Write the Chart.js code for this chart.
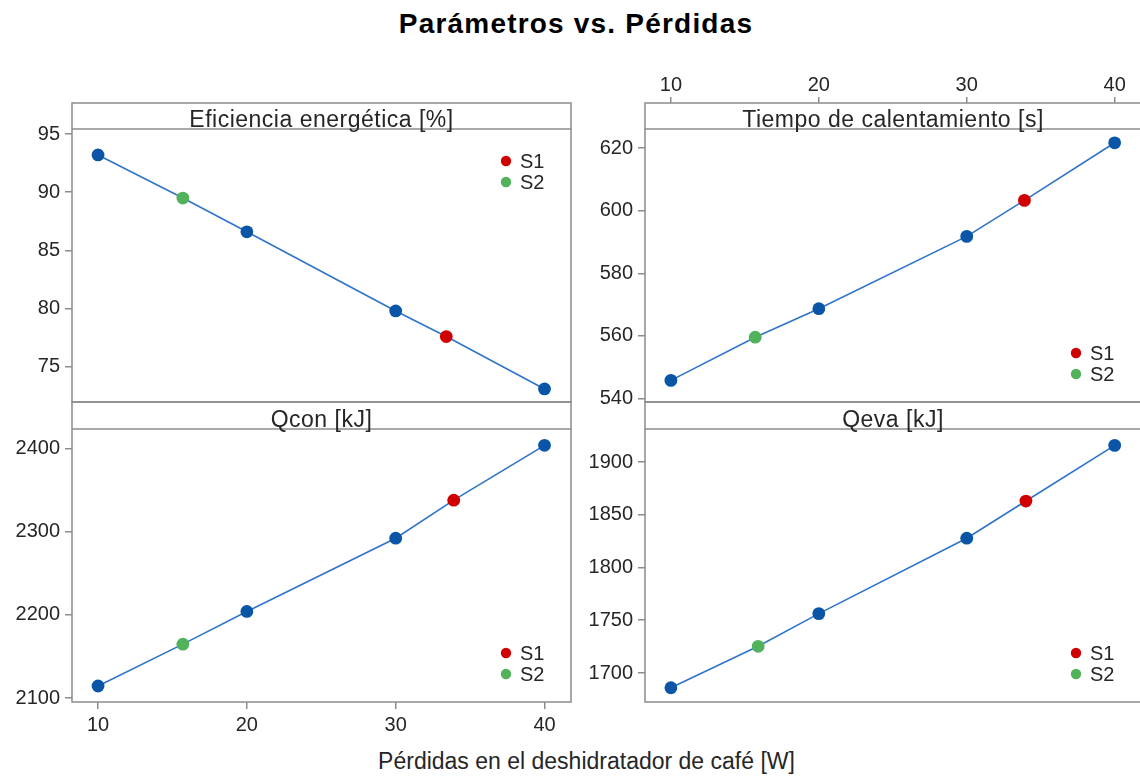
<!DOCTYPE html>
<html lang="es">
<head>
<meta charset="utf-8">
<title>Parámetros vs. Pérdidas</title>
<script src="https://cdn.jsdelivr.net/npm/chart.js@4.4.1/dist/chart.umd.min.js"></script>
<style>
  html, body { margin: 0; padding: 0; width: 1140px; height: 778px; overflow: hidden; background: #fff; }
  body { position: relative; font-family: "Liberation Sans", Arial, sans-serif; }
  #titulo { position: absolute; left: 0; width: 1152px; top: 10px; text-align: center;
            font-weight: bold; font-size: 28px; line-height: 28px; letter-spacing: 1.2px; color: #000; }
  #ejeX { position: absolute; left: 0; width: 1173px; top: 750px; text-align: center;
          font-size: 23px; line-height: 23px; color: #262626; }
</style>
</head>
<body>
<div id="titulo">Parámetros vs. Pérdidas</div>
<div id="ejeX">Pérdidas en el deshidratador de café [W]</div>
<script>
// pérdidas [W] y respuesta de cada parámetro
const perdidas = [10, 20, 30, 40];
const eficiencia = [93.2, 86.6, 79.8, 73.1];
const tiempo = [545.8, 568.7, 591.8, 621.7];
const qcon = [2114.4, 2204.0, 2292.0, 2403.6];
const qeva = [1686.0, 1756.3, 1827.8, 1915.8];

// puntos S1 y S2 (uno por panel: eficiencia, tiempo, qcon, qeva)
const s1Perdidas = [33.4, 33.9, 33.9, 34.0];
const s1Valores = [77.6, 603.3, 2337.7, 1863.0];
const s2Perdidas = [15.7, 15.7, 15.7, 15.9];
const s2Valores = [89.5, 559.6, 2164.7, 1725.3];

const ticksX = [10, 20, 30, 40];
const ticksEficiencia = [75, 80, 85, 90, 95];
const ticksTiempo = [540, 560, 580, 600, 620];
const ticksQcon = [2100, 2200, 2300, 2400];
const ticksQeva = [1700, 1750, 1800, 1850, 1900];

const AZUL = '#0b55a6', LINEA = '#2f74c9', ROJO = '#d10000', VERDE = '#52b25b';
const GRIS = '#8c8c8c', TEXTO = '#262626';
const FUENTE = '"Liberation Sans", Arial, sans-serif';

const YW = 72;  // espacio del eje Y
const XH = 40;  // espacio del eje X
const rangoX = [8.25, 41.78];

const paneles = [
  { titulo: 'Eficiencia energética [%]', valores: eficiencia, ticksY: ticksEficiencia,
    caja: { l: 72, t: 103, r: 571, b: 402 }, franja: 26, rangoY: [71.98, 95.43], ejeX: null, leyenda: 'arriba' },
  { titulo: 'Tiempo de calentamiento [s]', valores: tiempo, ticksY: ticksTiempo,
    caja: { l: 645, t: 103, r: 1141, b: 402 }, franja: 26, rangoY: [538.9, 626.1], ejeX: 'top', leyenda: 'abajo' },
  { titulo: 'Qcon [kJ]', valores: qcon, ticksY: ticksQcon,
    caja: { l: 72, t: 402, r: 571, b: 702 }, franja: 27, rangoY: [2095.2, 2423.2], ejeX: 'bottom', leyenda: 'abajo' },
  { titulo: 'Qeva [kJ]', valores: qeva, ticksY: ticksQeva,
    caja: { l: 645, t: 402, r: 1141, b: 702 }, franja: 27, rangoY: [1672.5, 1931.3], ejeX: null, leyenda: 'abajo' }
];

// marco del panel, franja con el título y leyenda S1/S2
const marco = {
  id: 'marco',
  afterDraw(chart, args, op) {
    const { ctx, chartArea: a } = chart;
    ctx.save();
    ctx.strokeStyle = GRIS;
    ctx.lineWidth = 1.5;
    ctx.strokeRect(a.left, a.top, a.right - a.left, a.bottom - a.top);
    ctx.beginPath();
    ctx.moveTo(a.left, a.top + op.franja);
    ctx.lineTo(a.right, a.top + op.franja);
    ctx.stroke();

    ctx.fillStyle = TEXTO;
    ctx.font = '23px ' + FUENTE;
    ctx.letterSpacing = '0.5px';
    ctx.textAlign = 'center';
    ctx.textBaseline = 'alphabetic';
    ctx.fillText(op.titulo, (a.left + a.right) / 2, a.top + op.franja - 2.5);
    ctx.letterSpacing = '0px';

    const items = chart.data.datasets.filter(d => d.leyenda);
    const x = a.right - 65;
    let y = op.leyenda === 'arriba' ? a.top + op.franja + 32 : a.bottom - 28 - 21 * (items.length - 1);
    ctx.font = '20px ' + FUENTE;
    ctx.textAlign = 'left';
    ctx.textBaseline = 'middle';
    items.forEach(d => {
      ctx.fillStyle = d.backgroundColor;
      ctx.beginPath();
      ctx.arc(x, y, 5.2, 0, Math.PI * 2);
      ctx.fill();
      ctx.fillStyle = TEXTO;
      ctx.fillText(d.label, x + 14, y + 1);
      y += 21;
    });
    ctx.restore();
  }
};

paneles.forEach((p, i) => {
  const c = p.caja;
  const ancho = (c.r - c.l) + YW + 10;
  const alto = (c.b - c.t) + 2 * XH;
  const lienzo = document.createElement('canvas');
  lienzo.width = ancho;
  lienzo.height = alto;
  lienzo.style.cssText = `position:absolute;left:${c.l - YW}px;top:${c.t - XH}px;width:${ancho}px;height:${alto}px`;
  document.body.appendChild(lienzo);

  const base = perdidas.map((x, k) => ({ x: x, y: p.valores[k] }));
  const s1 = [{ x: s1Perdidas[i], y: s1Valores[i] }];
  const s2 = [{ x: s2Perdidas[i], y: s2Valores[i] }];
  const linea = base.concat(s1, s2).sort((a, b) => a.x - b.x);

  // la franja del título ocupa la parte alta del área del gráfico
  const [yMin, yTop] = p.rangoY;
  const altoGrafico = (c.b - c.t) - p.franja;
  const yMax = yTop + (yTop - yMin) * p.franja / altoGrafico;

  const ticks = { color: TEXTO, font: { family: FUENTE, size: 20 }, callback: v => String(v) };
  const grid = { display: true, drawOnChartArea: false, drawTicks: true, tickLength: 7, color: GRIS, lineWidth: 1.5 };

  new Chart(lienzo, {
    type: 'scatter',
    data: {
      datasets: [
        { label: 'Pérdidas', data: linea, showLine: true, borderColor: LINEA, borderWidth: 1.6,
          pointRadius: 0, order: 3 },
        { label: 'Datos', data: base, backgroundColor: AZUL, borderColor: AZUL, pointRadius: 6.4,
          borderWidth: 0, order: 2 },
        { label: 'S1', data: s1, backgroundColor: ROJO, borderColor: ROJO, pointRadius: 6.4,
          borderWidth: 0, order: 1, leyenda: true },
        { label: 'S2', data: s2, backgroundColor: VERDE, borderColor: VERDE, pointRadius: 6.4,
          borderWidth: 0, order: 1, leyenda: true }
      ]
    },
    options: {
      responsive: false,
      animation: false,
      events: [],
      layout: { padding: { left: 0, right: 10,
        top: p.ejeX === 'top' ? 0 : XH, bottom: p.ejeX === 'bottom' ? 0 : XH } },
      plugins: {
        legend: { display: false },
        tooltip: { enabled: false },
        marco: { titulo: p.titulo, franja: p.franja, leyenda: p.leyenda }
      },
      scales: {
        x: {
          type: 'linear', position: p.ejeX || 'bottom', display: !!p.ejeX, bounds: 'data',
          min: rangoX[0], max: rangoX[1],
          afterBuildTicks: s => { s.ticks = ticksX.map(v => ({ value: v })); },
          afterFit: s => { s.height = p.ejeX ? XH : 0; },
          ticks: Object.assign({}, ticks, { padding: p.ejeX === 'top' ? 0 : 4, maxRotation: 0 }),
          grid: Object.assign({}, grid, { tickLength: p.ejeX === 'top' ? 6 : 7 }),
          border: { display: false }
        },
        y: {
          type: 'linear', position: 'left', bounds: 'data',
          min: yMin, max: yMax,
          afterBuildTicks: s => { s.ticks = p.ticksY.map(v => ({ value: v })); },
          afterFit: s => { s.width = YW; },
          ticks: Object.assign({}, ticks, { padding: 5 }),
          grid: grid,
          border: { display: false }
        }
      }
    },
    plugins: [marco]
  });
});
</script>
</body>
</html>
